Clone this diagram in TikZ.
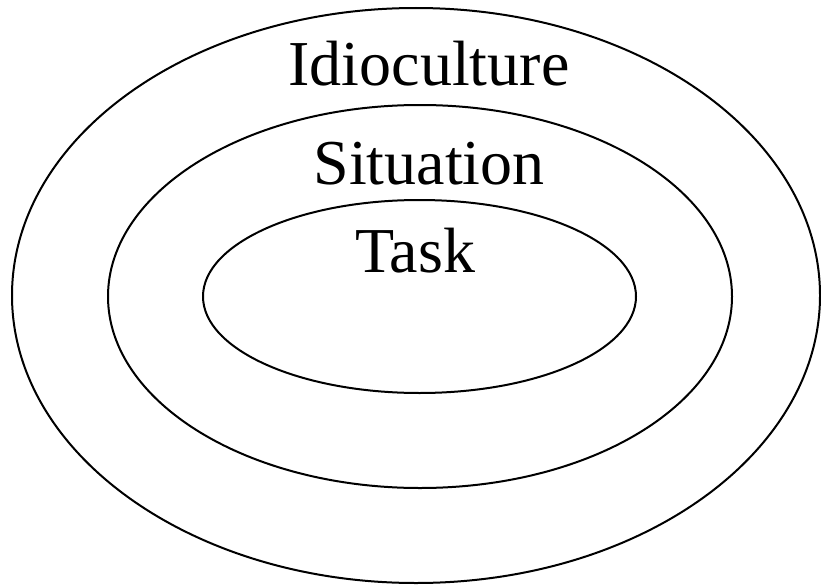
\documentclass[tikz,border=0pt]{standalone}
\usepackage{fontspec}
\setmainfont{Liberation Serif}
\begin{document}
\begin{tikzpicture}[x=1pt,y=-1pt,
  ring/.style={draw=black,line width=2pt},
  lbl/.style={anchor=base,inner sep=0pt,font=\fontsize{64}{64}\selectfont}]
\useasboundingbox (0,0) rectangle (821,586);
\draw[ring] (416,295.5) ellipse [x radius=404, y radius=287.5];
\draw[ring] (420,296.5) ellipse [x radius=312, y radius=191.5];
\draw[ring] (419.5,296.5) ellipse [x radius=216.5, y radius=96.5];
\node[lbl] (idio) at (429,85) {Idioculture};
\node[lbl] (sit) at (429,184) {Situation};
\node[lbl] (task) at (415,272) {Task};
\end{tikzpicture}
\end{document}
